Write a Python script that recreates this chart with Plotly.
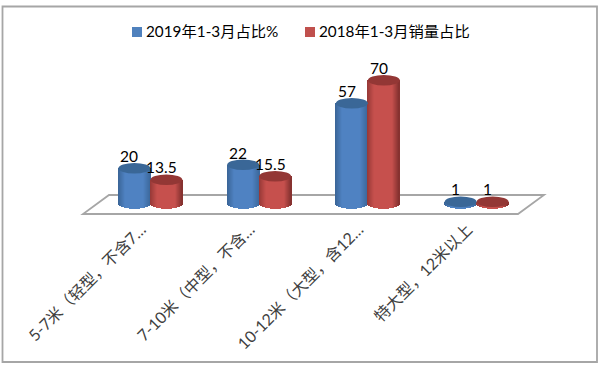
import plotly.graph_objects as go

categories = ["5-7米（轻型，不含7…", "7-10米（中型，不含…", "10-12米（大型，含12…", "特大型，12米以上"]
share_2019 = [20, 22, 57, 1]
share_2018 = [13.5, 15.5, 70, 1]
name_2019 = "2019年1-3月占比%"
name_2018 = "2018年1-3月销量占比"

FONT = "Lato, 'Noto Sans CJK SC', sans-serif"
PX_PER_UNIT = 1.76
PLOT_TOP, PLOT_BOTTOM = 10, 218
ZERO_PX = 203.5
ELL = 3.0            # ellipse half-height in value units
BAR_W = 0.294        # cylinder width in category units
STRIPS = 32
W, H = 600, 366
PLOT_L, PLOT_R = 96, 531


def px(x):
    return (x - PLOT_L) / (PLOT_R - PLOT_L)


def py(y):
    return (PLOT_BOTTOM - y) / (PLOT_BOTTOM - PLOT_TOP)


def lerp(a, b, t):
    return tuple(a[i] + (b[i] - a[i]) * t for i in range(3))


def shade(dark_l, mid, dark_r, t):
    # t from 0 (left edge) to 1 (right edge)
    if t < 0.22:
        c = lerp(dark_l, mid, t / 0.22)
    elif t < 0.78:
        c = mid
    else:
        c = lerp(mid, dark_r, (t - 0.78) / 0.22)
    return "rgb(%d,%d,%d)" % tuple(round(v) for v in c)


series = [
    dict(values=share_2019, sign=-1, mid=(79, 130, 194), left=(58, 100, 150), right=(60, 104, 156), top="#3A6797"),
    dict(values=share_2018, sign=1, mid=(198, 80, 77), left=(150, 56, 54), right=(130, 48, 46), top="#933735"),
]

fig = go.Figure()
shapes = []
annotations = []
xs = list(range(len(categories)))

# floor of the chart
shapes.append(dict(type="path", xref="paper", yref="paper", layer="below",
                   path=f"M {px(83)} {py(214)} L {px(518)} {py(214)} L {px(544)} {py(195)} L {px(109)} {py(195)} Z",
                   fillcolor="#FFFFFF", line=dict(color="#A6A6A6", width=1.8)))

for s in series:
    left_edge = 0 if s["sign"] > 0 else -BAR_W
    sw = BAR_W / STRIPS
    for k in range(STRIPS):
        t = (k + 0.5) / STRIPS
        arc = ELL * (1 - (2 * t - 1) ** 2) ** 0.5
        fig.add_trace(go.Bar(
            x=xs,
            y=[v + arc for v in s["values"]],
            base=[-arc] * len(xs),
            offset=left_edge + k * sw,
            width=sw,
            marker=dict(color=shade(s["left"], s["mid"], s["right"], t), line_width=0),
            showlegend=False,
            hoverinfo="skip",
        ))
    for x, v in zip(xs, s["values"]):
        shapes.append(dict(type="circle", xref="x", yref="y", layer="above",
                           x0=x + left_edge, x1=x + left_edge + BAR_W,
                           y0=v - ELL, y1=v + ELL,
                           fillcolor=s["top"], line_width=0))
        annotations.append(dict(xref="x", yref="y", x=x + left_edge + BAR_W / 2, y=v + ELL,
                                text=str(v), showarrow=False, xshift=-5, yshift=7,
                                yanchor="middle", font=dict(size=15.5, color="#000000", family=FONT)))

# outer frame
shapes.append(dict(type="rect", xref="paper", yref="paper", layer="below",
                   x0=px(2.5), x1=px(597), y0=py(6.5), y1=py(362),
                   fillcolor="rgba(0,0,0,0)", line=dict(color="#A6A6A6", width=1.8)))

# legend
for x0, color, label, tx in [(132, "#4F81BD", name_2019, 144), (305, "#C0504D", name_2018, 317)]:
    shapes.append(dict(type="rect", xref="paper", yref="paper",
                       x0=px(x0), x1=px(x0 + 10), y0=py(27), y1=py(37),
                       fillcolor=color, line_width=0))
    annotations.append(dict(xref="paper", yref="paper", x=px(tx), y=py(31.5), text=label,
                            xanchor="left", yanchor="middle", showarrow=False,
                            font=dict(size=15.3, color="#000000", family=FONT)))

fig.update_layout(
    width=W, height=H,
    margin=dict(l=PLOT_L, r=W - PLOT_R, t=PLOT_TOP, b=H - PLOT_BOTTOM, pad=0),
    paper_bgcolor="#FFFFFF", plot_bgcolor="rgba(0,0,0,0)",
    barmode="overlay", bargap=0,
    showlegend=False,
    shapes=shapes, annotations=annotations,
    xaxis=dict(range=[-0.5, 3.5], tickmode="array", tickvals=xs, ticktext=categories,
               tickangle=-45, showgrid=False, zeroline=False, showline=False, ticks="",
               ticklabelstandoff=-2, ticklabelshift=-9,
               tickfont=dict(size=16, color="#404040", family=FONT), automargin=False),
    yaxis=dict(range=[-(PLOT_BOTTOM - ZERO_PX) / PX_PER_UNIT, (ZERO_PX - PLOT_TOP) / PX_PER_UNIT],
               visible=False, fixedrange=True),
)

fig.write_html("out.html", config={"displayModeBar": False},
               post_script="document.body.style.margin='0';document.body.style.overflow='hidden';")
